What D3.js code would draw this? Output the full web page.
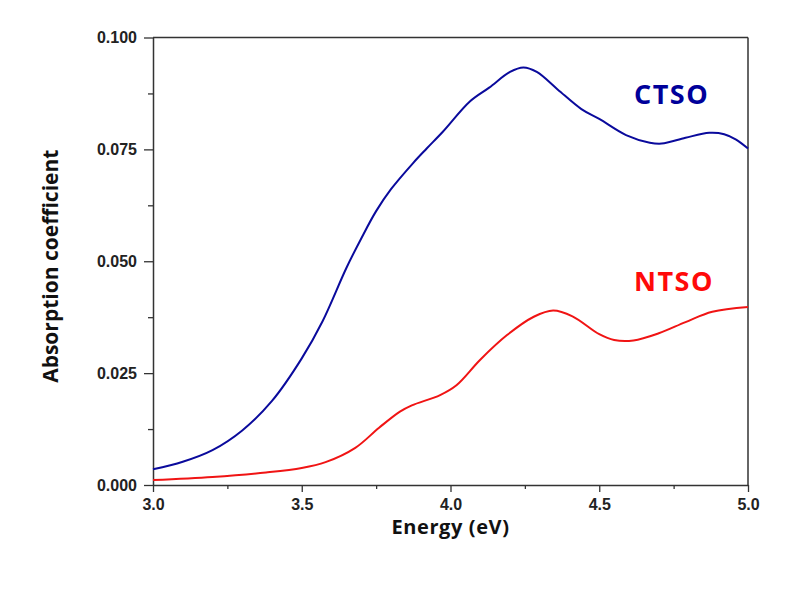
<!DOCTYPE html>
<html>
<head>
<meta charset="utf-8">
<script src="https://cdn.jsdelivr.net/npm/d3@7"></script>
<style>
  html, body { margin: 0; padding: 0; background: #fff; }
  svg { display: block; }
</style>
</head>
<body>
<svg id="chart" width="798" height="589"></svg>
<script>
// ---- data ----
const ctsoEnergy = [3.0, 3.1, 3.2, 3.3, 3.4, 3.5, 3.57, 3.65, 3.7, 3.75, 3.8, 3.875, 3.92, 3.975, 4.065, 4.13, 4.2, 4.245, 4.29, 4.36, 4.44, 4.5, 4.59, 4.67, 4.71, 4.79, 4.87, 4.92, 4.96, 5.0];
const ctsoValues = [0.0035, 0.0052, 0.0078, 0.0122, 0.0188, 0.0283, 0.0366, 0.0485, 0.0551, 0.0612, 0.0661, 0.0720, 0.0752, 0.0790, 0.0857, 0.0888, 0.0923, 0.0933, 0.0923, 0.0884, 0.0840, 0.0818, 0.0782, 0.0765, 0.0763, 0.0776, 0.0787, 0.0784, 0.0772, 0.0752];
const ntsoEnergy = [3.0, 3.2, 3.38, 3.5, 3.58, 3.68, 3.76, 3.83, 3.87, 3.965, 4.02, 4.1, 4.19, 4.28, 4.345, 4.41, 4.5, 4.55, 4.615, 4.7, 4.79, 4.88, 5.0];
const ntsoValues = [0.0011, 0.0018, 0.0028, 0.0038, 0.0051, 0.0083, 0.0128, 0.0164, 0.0178, 0.0201, 0.0223, 0.0280, 0.0335, 0.0376, 0.0390, 0.0377, 0.0337, 0.0324, 0.0323, 0.0339, 0.0364, 0.0387, 0.0398];
const xTicks = [3.0, 3.5, 4.0, 4.5, 5.0];
const xMinorTicks = [3.25, 3.75, 4.25, 4.75];
const yTicks = [0.000, 0.025, 0.050, 0.075, 0.100];
const yMinorTicks = [0.0125, 0.0375, 0.0625, 0.0875];
const seriesNames = ["CTSO", "NTSO"];
const seriesColors = ["#0a0a9c", "#f01414"];
const labelColors = ["#00009a", "#ff0a0a"];
const xTitle = "Energy (eV)";
const yTitle = "Absorption coefficient";

// ---- layout ----
const pLeft = 153, pRight = 748, pTop = 37.5, pBottom = 485;
const svg = d3.select("#chart");
const x = d3.scaleLinear().domain([3.0, 5.0]).range([pLeft, pRight]);
const y = d3.scaleLinear().domain([0, 0.1]).range([pBottom, pTop]);
const axisColor = "#333";
const tickFont = "Liberation Sans, Arial, sans-serif";

// frame (top & right)
svg.append("line").attr("x1", pLeft).attr("x2", pRight).attr("y1", pTop).attr("y2", pTop)
  .attr("stroke", axisColor).attr("stroke-width", 1.5);
svg.append("line").attr("x1", pRight).attr("x2", pRight).attr("y1", pTop).attr("y2", pBottom)
  .attr("stroke", axisColor).attr("stroke-width", 1.5);

// x axis
svg.append("g").attr("class", "xax").attr("transform", `translate(0,${pBottom})`)
  .call(d3.axisBottom(x).tickValues(xTicks).tickFormat(d3.format(".1f")).tickSize(7).tickSizeOuter(0).tickPadding(7));
svg.append("g").attr("transform", `translate(0,${pBottom})`)
  .call(d3.axisBottom(x).tickValues(xMinorTicks).tickFormat("").tickSize(4).tickSizeOuter(0))
  .call(g => g.select(".domain").remove());

// y axis
svg.append("g").attr("transform", `translate(${pLeft},0)`)
  .call(d3.axisLeft(y).tickValues(yTicks).tickFormat(d3.format(".3f")).tickSize(9).tickSizeOuter(0).tickPadding(7));
svg.append("g").attr("transform", `translate(${pLeft},0)`)
  .call(d3.axisLeft(y).tickValues(yMinorTicks).tickFormat("").tickSize(5).tickSizeOuter(0))
  .call(g => g.select(".domain").remove());

svg.selectAll(".domain").attr("stroke", axisColor).attr("stroke-width", 1.5);
svg.selectAll(".tick line").attr("stroke", axisColor).attr("stroke-width", 1.3);
svg.selectAll(".tick text").attr("fill", "#222").style("font-family", tickFont)
  .style("font-size", "16px").style("font-weight", "bold");

// lines
const line = d3.line().x(d => x(d[0])).y(d => y(d[1])).curve(d3.curveCatmullRom.alpha(0.5));
const series = [
  d3.zip(ctsoEnergy, ctsoValues),
  d3.zip(ntsoEnergy, ntsoValues)
];
series.forEach((s, i) => {
  svg.append("path").datum(s).attr("d", line)
    .attr("fill", "none").attr("stroke", seriesColors[i]).attr("stroke-width", 2);
});

// series labels
const labelFont = "'Open Sans', 'Noto Sans', sans-serif";
svg.append("text").attr("x", 634).attr("y", 104).text(seriesNames[0]).style("letter-spacing", "1.5px")
  .attr("fill", labelColors[0]).style("font-family", labelFont).style("font-size", "27px").style("font-weight", "bold");
svg.append("text").attr("x", 634).attr("y", 291).text(seriesNames[1]).style("letter-spacing", "1.5px")
  .attr("fill", labelColors[1]).style("font-family", labelFont).style("font-size", "27px").style("font-weight", "bold");

// axis titles
svg.append("text").attr("x", (pLeft + pRight) / 2).attr("y", 534).attr("text-anchor", "middle")
  .text(xTitle).attr("fill", "#111").style("font-family", labelFont).style("font-size", "20px").style("font-weight", "bold")
  .style("letter-spacing", "0.6px");
svg.append("text").attr("transform", `translate(58,${(pTop + pBottom) / 2 + 5}) rotate(-90)`).attr("text-anchor", "middle")
  .text(yTitle).attr("fill", "#111").style("font-family", labelFont).style("font-size", "21px").style("font-weight", "bold");
</script>
</body>
</html>
